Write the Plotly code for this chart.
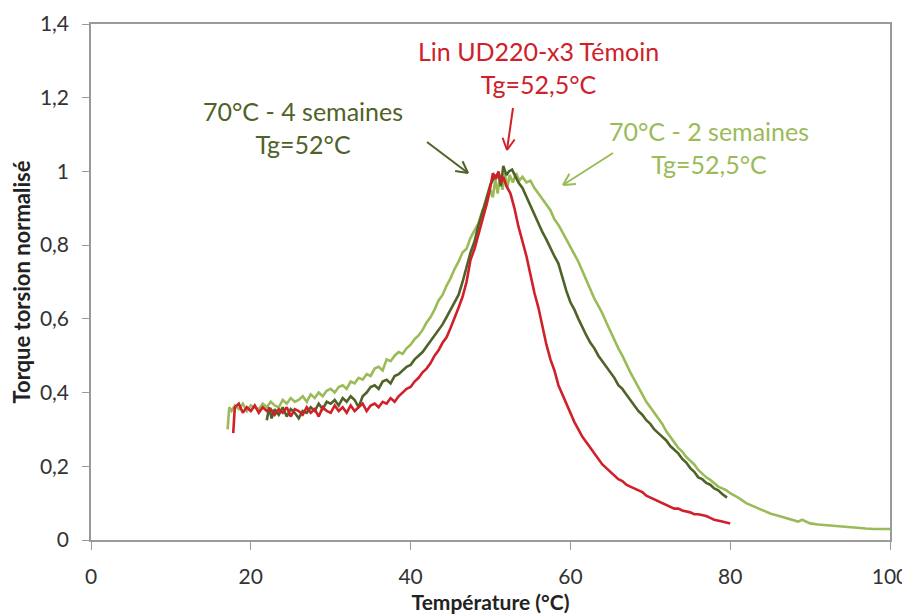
import plotly.graph_objects as go
import math

# ---------------- data ----------------
temp_temoin = [17.8, 18.0, 18.5, 19.0, 19.5, 20.0, 20.5, 21.0, 21.5, 22.0, 22.5, 23.0, 23.5, 24.0, 24.5,
               25.0, 25.5, 26.0, 26.5, 27.0, 27.5, 28.0, 28.5, 29.0, 29.5, 30.0, 30.5, 31.0, 31.5, 32.0,
               32.5, 33.0, 33.5, 34.0, 34.5, 35.0, 35.5, 36.0, 36.5, 37.0, 37.5, 38.0, 38.5, 39.0, 39.5,
               40.0, 40.5, 41.0, 41.5, 42.0, 42.5, 43.0, 43.5, 44.0, 44.5, 45.0, 45.5, 46.0, 46.5, 47.0,
               47.5, 48.0, 48.5, 49.0, 49.5, 50.0, 50.3, 50.7, 51.0, 51.3, 51.6, 52.0, 52.5, 53.0, 53.5,
               54.0, 54.5, 55.0, 55.5, 56.0, 56.5, 57.0, 57.5, 58.0, 58.5, 59.0, 59.5, 60.0, 60.5, 61.0,
               61.5, 62.0, 62.5, 63.0, 63.5, 64.0, 64.5, 65.0, 65.5, 66.0, 66.5, 67.0, 67.5, 68.0, 68.5,
               69.0, 69.5, 70.0, 70.5, 71.0, 72.0, 72.5, 73.0, 73.5, 74.0, 75.0, 75.5, 76.0, 77.0, 77.5,
               78.0, 79.0, 80.0]
torque_temoin = [0.29, 0.36, 0.37, 0.345, 0.36, 0.35, 0.365, 0.345, 0.36, 0.35, 0.355, 0.34, 0.355, 0.345, 0.36,
                 0.335, 0.355, 0.35, 0.34, 0.36, 0.345, 0.355, 0.335, 0.36, 0.35, 0.345, 0.365, 0.35, 0.36, 0.345,
                 0.365, 0.35, 0.36, 0.37, 0.35, 0.365, 0.37, 0.36, 0.375, 0.37, 0.385, 0.375, 0.39, 0.40, 0.41,
                 0.415, 0.43, 0.44, 0.455, 0.465, 0.48, 0.50, 0.515, 0.535, 0.55, 0.575, 0.60, 0.63, 0.66, 0.70,
                 0.76, 0.79, 0.83, 0.87, 0.91, 0.96, 0.995, 0.98, 1.0, 0.97, 0.985, 0.96, 0.94, 0.90, 0.85,
                 0.81, 0.77, 0.72, 0.67, 0.63, 0.58, 0.53, 0.49, 0.46, 0.42, 0.395, 0.365, 0.34, 0.32, 0.30,
                 0.28, 0.265, 0.25, 0.235, 0.22, 0.205, 0.195, 0.185, 0.175, 0.165, 0.16, 0.15, 0.145, 0.14, 0.135,
                 0.13, 0.12, 0.115, 0.11, 0.105, 0.095, 0.09, 0.085, 0.085, 0.08, 0.075, 0.07, 0.07, 0.065, 0.06,
                 0.055, 0.05, 0.045]

temp_4sem = [22.0, 22.3, 22.6, 23.0, 23.5, 24.0, 24.5, 25.0, 25.5, 26.0, 26.5, 27.0, 27.5, 28.0, 28.5,
             29.0, 29.5, 30.0, 30.5, 31.0, 31.5, 32.0, 32.5, 33.0, 33.5, 34.0, 34.5, 35.0, 35.5, 36.0,
             36.5, 37.0, 37.5, 38.0, 38.5, 39.0, 39.5, 40.0, 40.5, 41.0, 41.5, 42.0, 42.5, 43.0, 43.5,
             44.0, 44.5, 45.0, 45.5, 46.0, 46.5, 47.0, 47.5, 48.0, 48.5, 49.0, 49.5, 50.0, 50.5, 51.0,
             51.3, 51.6, 52.0, 52.3, 52.7, 53.0, 53.5, 54.0, 54.5, 55.0, 55.5, 56.0, 56.5, 57.0, 57.5,
             58.0, 58.5, 59.0, 59.5, 60.0, 60.5, 61.0, 61.5, 62.0, 62.5, 63.0, 63.5, 64.0, 64.5, 65.0,
             65.5, 66.0, 66.5, 67.0, 67.5, 68.0, 68.5, 69.0, 69.5, 70.0, 70.5, 71.0, 71.5, 72.0, 72.5,
             73.0, 73.5, 74.0, 74.5, 75.0, 75.5, 76.0, 76.5, 77.0, 77.5, 78.0, 78.5, 79.0, 79.6]
torque_4sem = [0.325, 0.36, 0.33, 0.355, 0.34, 0.36, 0.335, 0.355, 0.345, 0.33, 0.35, 0.345, 0.36, 0.35, 0.37,
               0.355, 0.375, 0.37, 0.38, 0.365, 0.385, 0.375, 0.39, 0.38, 0.36, 0.39, 0.40, 0.415, 0.42, 0.41,
               0.43, 0.435, 0.425, 0.445, 0.45, 0.46, 0.47, 0.475, 0.49, 0.50, 0.51, 0.525, 0.54, 0.555, 0.57,
               0.585, 0.605, 0.625, 0.645, 0.665, 0.70, 0.74, 0.78, 0.81, 0.855, 0.89, 0.93, 0.965, 0.985, 0.995,
               0.96, 1.015, 0.99, 1.0, 1.005, 0.99, 0.97, 0.955, 0.93, 0.91, 0.885, 0.86, 0.835, 0.815, 0.79,
               0.77, 0.75, 0.71, 0.675, 0.645, 0.625, 0.60, 0.575, 0.555, 0.535, 0.52, 0.50, 0.485, 0.47, 0.455,
               0.44, 0.42, 0.41, 0.395, 0.38, 0.365, 0.35, 0.34, 0.325, 0.315, 0.30, 0.29, 0.28, 0.27, 0.255,
               0.245, 0.235, 0.22, 0.21, 0.195, 0.185, 0.17, 0.165, 0.155, 0.15, 0.14, 0.135, 0.125, 0.115]

temp_2sem = [17.1, 17.3, 17.6, 18.0, 18.5, 19.0, 19.5, 20.0, 20.5, 21.0, 21.5, 22.0, 22.5, 23.0, 23.5,
             24.0, 24.5, 25.0, 25.5, 26.0, 26.5, 27.0, 27.5, 28.0, 28.5, 29.0, 29.5, 30.0, 30.5, 31.0,
             31.5, 32.0, 32.5, 33.0, 33.5, 34.0, 34.5, 35.0, 35.5, 36.0, 36.5, 37.0, 37.5, 38.0, 38.5,
             39.0, 39.5, 40.0, 40.5, 41.0, 41.5, 42.0, 42.5, 43.0, 43.5, 44.0, 44.5, 45.0, 45.5, 46.0,
             46.5, 47.0, 47.5, 48.0, 48.5, 49.0, 49.5, 50.0, 50.3, 50.6, 50.9, 51.2, 51.5, 51.8, 52.1,
             52.4, 52.8, 53.2, 53.6, 54.0, 54.5, 55.0, 55.5, 56.0, 56.5, 57.0, 57.5, 58.0, 58.5, 59.0,
             59.5, 60.0, 60.5, 61.0, 61.5, 62.0, 62.5, 63.0, 63.5, 64.0, 64.5, 65.0, 65.5, 66.0, 66.5,
             67.0, 67.5, 68.0, 68.5, 69.0, 69.5, 70.0, 70.5, 71.0, 71.5, 72.0, 72.5, 73.0, 73.5, 74.0,
             74.5, 75.0, 75.5, 76.0, 76.5, 77.0, 77.5, 78.0, 78.5, 79.0, 79.5, 80.0, 81.0, 82.0, 83.0,
             84.0, 85.0, 86.0, 87.0, 88.0, 88.5, 89.0, 89.5, 90.0, 91.0, 92.0, 93.0, 94.0, 95.0, 96.0,
             96.5, 97.0, 98.0, 100.0]
torque_2sem = [0.30, 0.36, 0.35, 0.365, 0.355, 0.37, 0.35, 0.365, 0.36, 0.355, 0.37, 0.36, 0.375, 0.365, 0.36,
               0.38, 0.37, 0.385, 0.375, 0.38, 0.39, 0.375, 0.395, 0.385, 0.40, 0.39, 0.405, 0.41, 0.40, 0.415,
               0.42, 0.41, 0.43, 0.425, 0.44, 0.435, 0.45, 0.445, 0.465, 0.47, 0.46, 0.49, 0.485, 0.50, 0.51,
               0.505, 0.52, 0.53, 0.545, 0.555, 0.57, 0.59, 0.605, 0.625, 0.65, 0.665, 0.69, 0.71, 0.735, 0.755,
               0.78, 0.79, 0.82, 0.84, 0.86, 0.895, 0.91, 0.95, 0.93, 0.98, 0.94, 0.99, 0.95, 0.995, 0.955,
               0.99, 0.97, 0.995, 0.975, 0.985, 0.97, 0.975, 0.955, 0.94, 0.925, 0.91, 0.895, 0.87, 0.855, 0.835,
               0.815, 0.795, 0.775, 0.755, 0.73, 0.705, 0.68, 0.655, 0.635, 0.615, 0.59, 0.565, 0.54, 0.52, 0.50,
               0.475, 0.455, 0.435, 0.415, 0.395, 0.375, 0.36, 0.345, 0.33, 0.315, 0.295, 0.28, 0.265, 0.25, 0.24,
               0.225, 0.215, 0.205, 0.19, 0.18, 0.17, 0.163, 0.155, 0.145, 0.14, 0.135, 0.127, 0.115, 0.10, 0.09,
               0.08, 0.072, 0.066, 0.06, 0.055, 0.05, 0.055, 0.05, 0.045, 0.042, 0.04, 0.037, 0.035, 0.035, 0.033,
               0.03, 0.031, 0.03, 0.03]

x_ticks = [0, 20, 40, 60, 80, 100]
x_tick_labels = ["0", "20", "40", "60", "80", "100"]
y_ticks = [0, 0.2, 0.4, 0.6, 0.8, 1.0, 1.2, 1.4]
y_tick_labels = ["0", "0,2", "0,4", "0,6", "0,8", "1", "1,2", "1,4"]

C_RED = "#D0202A"
C_DARK = "#4F6228"
C_LIGHT = "#9BBB59"

FONT = "Lato"

fig = go.Figure()
fig.add_trace(go.Scatter(x=temp_2sem, y=torque_2sem, mode="lines",
                         line=dict(color=C_LIGHT, width=2.6), name="70°C - 2 semaines"))
fig.add_trace(go.Scatter(x=temp_4sem, y=torque_4sem, mode="lines",
                         line=dict(color=C_DARK, width=2.6), name="70°C - 4 semaines"))
fig.add_trace(go.Scatter(x=temp_temoin, y=torque_temoin, mode="lines",
                         line=dict(color=C_RED, width=2.6), name="Lin UD220-x3 Témoin"))

# The page body has an 8 px margin, so the figure is drawn 8 px in from the window edge.
PAGE_OFF = 8
W, H = 910, 614
# plot-area geometry in window pixels (used for the annotation arrows / labels)
L, R, T, B = 91, 890, 24, 540
def to_data(px, py):
    return (px - L) / (R - L) * 100.0, (B - py) / (B - T) * 1.4

shapes = []
def arrow(tail, head, color, wing=13, ang=28):
    dx, dy = head[0] - tail[0], head[1] - tail[1]
    n = math.hypot(dx, dy)
    ux, uy = dx / n, dy / n
    segs = [(tail, head)]
    for s in (1, -1):
        a = math.radians(ang) * s
        wx = -(ux * math.cos(a) - uy * math.sin(a)) * wing
        wy = -(ux * math.sin(a) + uy * math.cos(a)) * wing
        segs.append((head, (head[0] + wx, head[1] + wy)))
    for p0, p1 in segs:
        x0, y0 = to_data(*p0)
        x1, y1 = to_data(*p1)
        shapes.append(dict(type="line", xref="x", yref="y", x0=x0, y0=y0, x1=x1, y1=y1,
                           line=dict(color=color, width=2)))

arrow((513, 108), (507, 150), C_RED)
arrow((427, 142), (468, 173), C_DARK)
arrow((613, 153), (563, 185), C_LIGHT)

annotations = []
def label(text, px, py, color):
    x, y = to_data(px, py)
    annotations.append(dict(text=text, x=x, y=y, xref="x", yref="y", showarrow=False,
                            font=dict(family=FONT, size=25, color=color), align="center"))

label("Lin UD220-x3 Témoin<br>Tg=52,5°C", 538, 67, C_RED)
label("70°C - 4 semaines<br>Tg=52°C", 303, 127, C_DARK)
label("70°C - 2 semaines<br>Tg=52,5°C", 709, 147, C_LIGHT)

fig.update_layout(
    width=W, height=H,
    margin=dict(l=L - PAGE_OFF, r=W - (R - PAGE_OFF), t=T - PAGE_OFF, b=H - (B - PAGE_OFF)),
    paper_bgcolor="white", plot_bgcolor="white",
    showlegend=False,
    font=dict(family=FONT, size=16, color="#333333"),
    shapes=shapes, annotations=annotations,
    xaxis=dict(range=[0, 100], tickvals=x_ticks, ticktext=x_tick_labels, automargin=False,
               showgrid=False, zeroline=False, showline=True, linecolor="#9a9a9a", linewidth=1.5,
               mirror=True, ticks="outside", ticklen=8, tickcolor="#9a9a9a",
               ticklabelstandoff=9,
               tickfont=dict(family=FONT, size=21, color="#333333"),
               title=dict(text="<b>Température (°C)</b>", standoff=8,
                          font=dict(family=FONT, size=21, color="#222222"))),
    yaxis=dict(range=[0, 1.4], tickvals=y_ticks, ticktext=y_tick_labels, automargin=False,
               showgrid=False, zeroline=False, showline=True, linecolor="#9a9a9a", linewidth=1.5,
               mirror=True, ticks="outside", ticklen=7, tickcolor="#9a9a9a",
               ticklabelstandoff=9,
               tickfont=dict(family=FONT, size=21, color="#333333"),
               title=dict(text="<b>Torque torsion normalisé</b>", standoff=5,
                          font=dict(family=FONT, size=22, color="#222222"))),
)

fig.write_html("out.html")
